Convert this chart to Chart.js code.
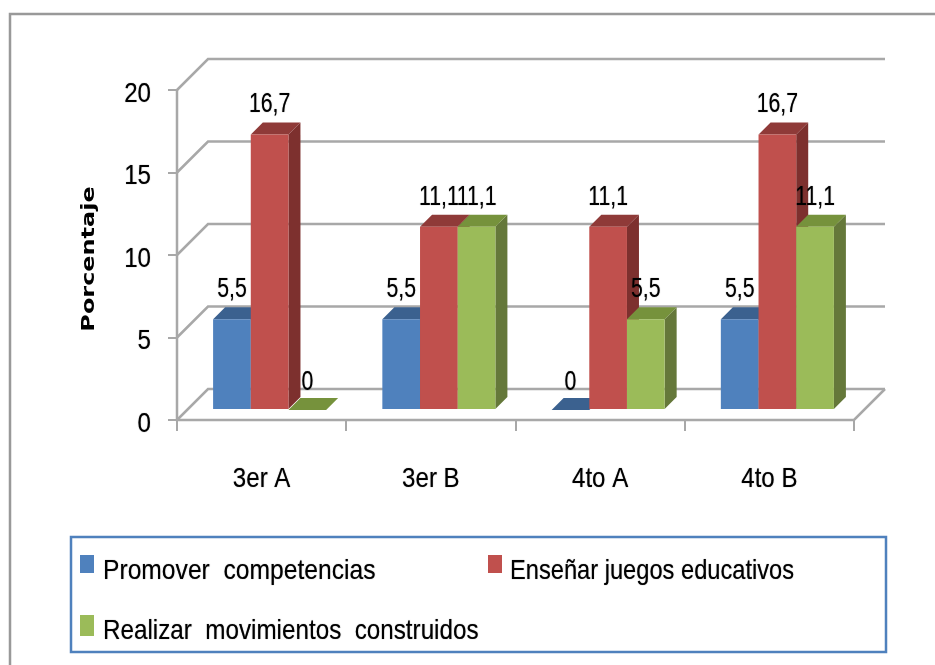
<!DOCTYPE html>
<html><head><meta charset="utf-8">
<style>html,body{margin:0;padding:0;background:#fff}#w{width:935px;height:665px}canvas{filter:blur(0.4px)}</style>
<script src="https://cdn.jsdelivr.net/npm/chart.js@4"></script>
</head><body><div id="w"><canvas id="c" width="935" height="665"></canvas></div>
<script>
const categories = ['3er A','3er B','4to A','4to B'];
const promover = [5.5,5.5,0,5.5];
const ensenar = [16.7,11.1,11.1,16.7];
const realizar = [0,11.1,5.5,11.1];
const seriesNames = ['Promover  competencias','Enseñar juegos educativos','Realizar  movimientos  construidos'];
const front = ['#4F81BD','#C0504D','#9BBB59'];
const topFace = ['#3B618F','#8F3A38','#76923C'];
const sideFace = ['#335580','#7D302E','#65783A'];
const legendSqueeze = [0.88,0.845,0.865];
const FONT = '"Liberation Sans",sans-serif';
const GRID = '#a8a8a8';
const DEPTH = 31, BAR_DX = 8, BAR_DY = -10, BAR_DEPTH = 12;

// The reference text is horizontally squeezed: keep real text, but condense it around its anchor.
const canvas = document.getElementById('c');
const ctx2d = canvas.getContext('2d');
const rawFill = ctx2d.fillText.bind(ctx2d);
let squeeze = 0;
ctx2d.fillText = function(t,x,y){
  const title = ctx2d.font.includes('DejaVu');
  const k = squeeze || (title ? 1.33 : 0.86);
  ctx2d.save();
  ctx2d.translate(title ? x-4 : x, y);
  ctx2d.scale(k,1);
  if(!title){ ctx2d.shadowColor='rgba(0,0,0,0.55)'; ctx2d.shadowBlur=1; }
  rawFill(t,0,0);
  ctx2d.restore();
};

const wall = {
  id:'wall',
  beforeDraw(ch){
    const c = ch.ctx; c.save();
    c.fillStyle='#fff'; c.fillRect(0,0,ch.width,ch.height);
    c.strokeStyle='#999999'; c.lineWidth=2.5;
    c.beginPath(); c.moveTo(10,665); c.lineTo(10,14); c.lineTo(935,14); c.stroke();
    c.restore();
  },
  beforeDatasetsDraw(ch){
    const c = ch.ctx, y = ch.scales.y, a = ch.chartArea;
    c.save(); c.strokeStyle=GRID; c.lineWidth=2.5;
    y.ticks.forEach(t=>{
      const p = y.getPixelForValue(t.value);
      c.beginPath(); c.moveTo(a.left,p); c.lineTo(a.left+DEPTH,p-DEPTH); c.lineTo(a.right+DEPTH,p-DEPTH); c.stroke();
    });
    const b = y.getPixelForValue(0);
    c.beginPath(); c.moveTo(a.left,y.getPixelForValue(20)); c.lineTo(a.left,b); c.lineTo(a.right,b); c.lineTo(a.right+DEPTH,b-DEPTH); c.stroke();
    c.restore();
    c.save(); c.beginPath(); c.rect(0,0,0,0); c.clip(); // library pass is repainted in depth order below
  },
  afterDatasetsDraw(ch){
    const c = ch.ctx; c.restore();
    c.save(); c.translate(BAR_DX,BAR_DY);
    ch.data.datasets.forEach((ds,i)=>{
      ch.getDatasetMeta(i).data.forEach(bar=>{
        const r = bar.getProps(['x','y','base','width'],true);
        const x1 = r.x-r.width/2, x2 = r.x+r.width/2, d = BAR_DEPTH;
        c.fillStyle = sideFace[i];
        c.beginPath(); c.moveTo(x2,r.y); c.lineTo(x2+d,r.y-d); c.lineTo(x2+d,r.base-d); c.lineTo(x2,r.base); c.closePath(); c.fill();
        c.fillStyle = topFace[i];
        c.beginPath(); c.moveTo(x1,r.y); c.lineTo(x1+d,r.y-d); c.lineTo(x2+d,r.y-d); c.lineTo(x2,r.y); c.closePath(); c.fill();
        bar.draw(c);
      });
    });
    c.fillStyle='#000'; c.font='28px '+FONT; c.textAlign='center'; c.textBaseline='middle';
    squeeze = 0.76;
    ch.data.datasets.forEach((ds,i)=>{
      ch.getDatasetMeta(i).data.forEach((bar,j)=>{
        const r = bar.getProps(['x','y'],true);
        c.fillText(String(ds.data[j]).replace('.',','), r.x, r.y-(ds.data[j]===0?28:30));
      });
    });
    squeeze = 0;
    c.restore();
  },
  afterDraw(ch){
    const c = ch.ctx; c.save();
    c.strokeStyle='#4F81BD'; c.lineWidth=2.5; c.strokeRect(71,537,815,115);
    const pos = [[80,555,14,18,103,571],[488,555,14,18,510,571],[80,615,14,21,103,631]];
    c.textAlign='left'; c.textBaseline='middle'; c.font='28px '+FONT;
    ch.data.datasets.forEach((ds,i)=>{
      const p = pos[i];
      c.fillStyle=front[i]; c.fillRect(p[0],p[1],p[2],p[3]);
      squeeze = legendSqueeze[i];
      c.fillStyle='#000'; c.fillText(ds.label,p[4],p[5]);
    });
    squeeze = 0;
    c.restore();
  }
};

new Chart(canvas,{
  type:'bar',
  plugins:[wall],
  data:{labels:categories,datasets:[
    {label:seriesNames[0],data:promover,backgroundColor:front[0]},
    {label:seriesNames[1],data:ensenar,backgroundColor:front[1]},
    {label:seriesNames[2],data:realizar,backgroundColor:front[2]}
  ]},
  options:{
    responsive:false,animation:false,
    layout:{padding:{left:79,top:90,right:81,bottom:0}},
    datasets:{bar:{categoryPercentage:0.668,barPercentage:1,borderWidth:0}},
    plugins:{legend:{display:false},tooltip:{enabled:false}},
    scales:{
      x:{
        grid:{drawOnChartArea:false,drawTicks:true,tickLength:11,color:GRID,lineWidth:2,offset:true},
        border:{display:false},
        ticks:{font:{size:28,family:FONT},color:'#000',padding:31,maxRotation:0},
        afterFit(s){s.height=245;}
      },
      y:{
        min:0,max:20,
        grid:{drawOnChartArea:false,drawTicks:true,tickLength:9,color:GRID,lineWidth:2},
        border:{display:false},
        ticks:{stepSize:5,font:{size:28,family:FONT},color:'#000',padding:17,labelOffset:4},
        title:{display:true,text:'Porcentaje',color:'#000',font:{size:18,weight:'bold',family:'"DejaVu Sans"'},padding:0},
        afterFit(s){s.width=98;}
      }
    }
  }
});
</script></body></html>
